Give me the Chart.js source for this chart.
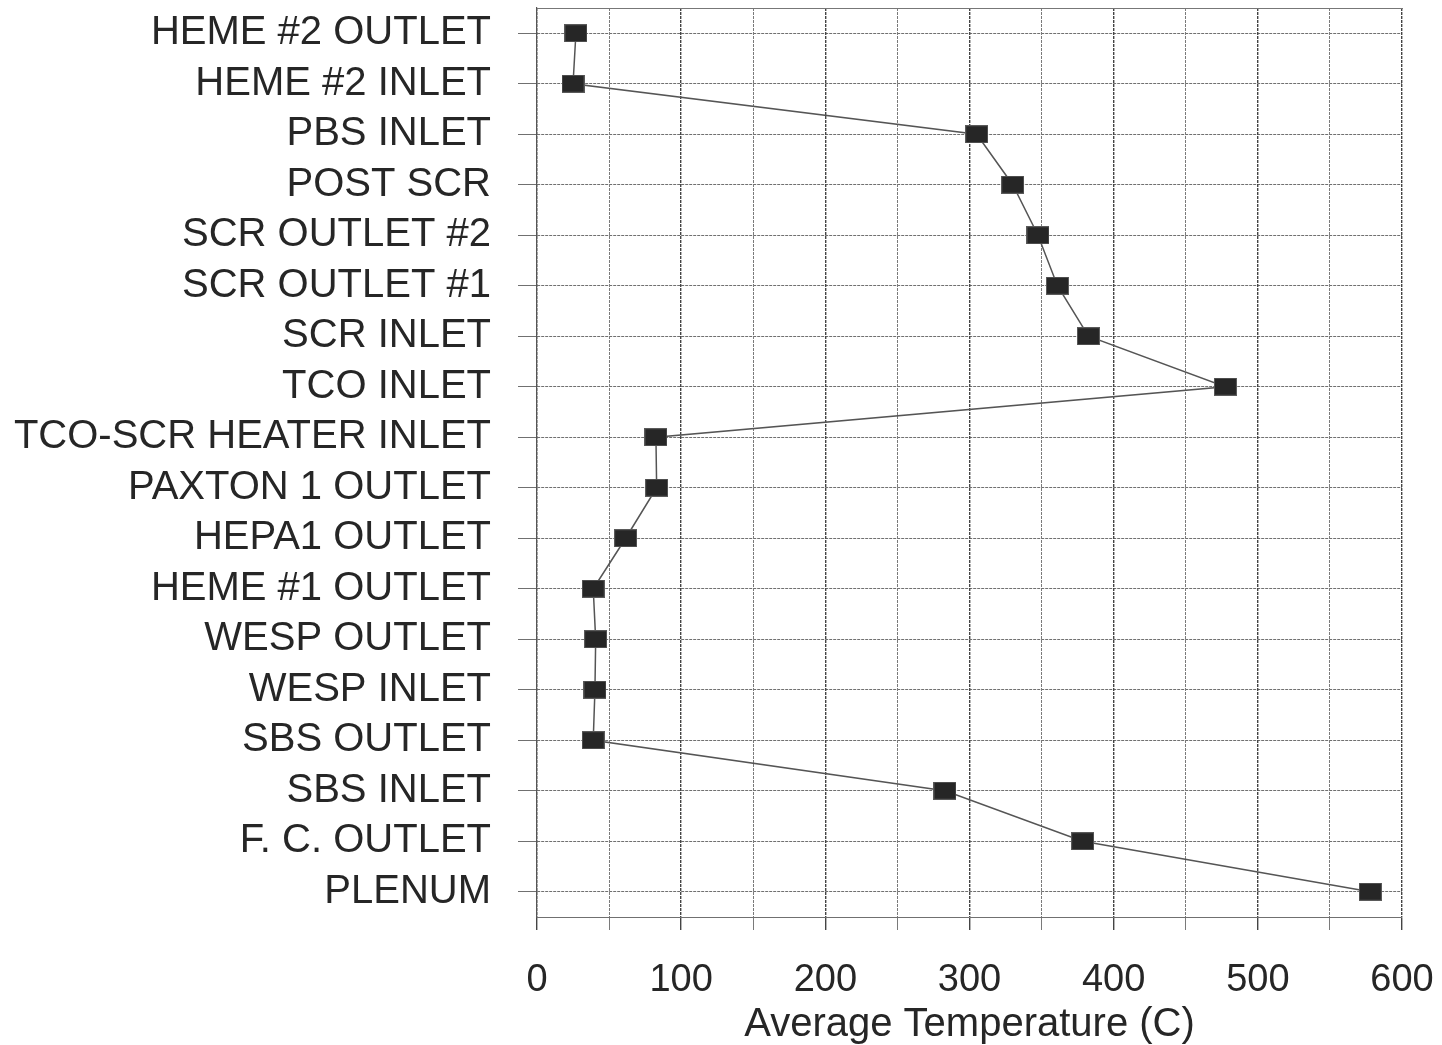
<!DOCTYPE html>
<html>
<head>
<meta charset="utf-8">
<script src="https://cdn.jsdelivr.net/npm/chart.js@4/dist/chart.umd.min.js"></script>
<style>
  html, body { margin: 0; padding: 0; background: #fff; }
  #wrap { width: 1442px; height: 1045px; position: relative; }
</style>
</head>
<body>
<div id="wrap"><canvas id="c" width="1442" height="1045"></canvas></div>
<script>
// ---- data ----
const locations = [
  "HEME #2 OUTLET", "HEME #2 INLET", "PBS INLET", "POST SCR",
  "SCR OUTLET #2", "SCR OUTLET #1", "SCR INLET", "TCO INLET",
  "TCO-SCR HEATER INLET", "PAXTON 1 OUTLET", "HEPA1 OUTLET", "HEME #1 OUTLET",
  "WESP OUTLET", "WESP INLET", "SBS OUTLET", "SBS INLET",
  "F. C. OUTLET", "PLENUM"
];
const avgTemperature = [
  27, 25, 305, 330,
  347.5, 361, 382.5, 477.5,
  82.5, 83, 61.5, 39,
  40.7, 40.2, 39, 283,
  378.5, 578
];
const xTickLabels = ["0", "100", "200", "300", "400", "500", "600"];
const xAxisTitle = "Average Temperature (C)";

// ---- marker ----
const marker = document.createElement('canvas');
marker.width = 23; marker.height = 18;
(function(){
  const m = marker.getContext('2d');
  m.fillStyle = '#5a5a5a';
  m.fillRect(0, 0, 23, 18);
  m.fillStyle = '#262626';
  m.fillRect(1, 1, 21, 16);
})();

const FONT = "'Liberation Sans', Arial, sans-serif";
const TXT = '#262626';

function zeroPad(s) { s.paddingTop = 0; s.paddingBottom = 0; s.paddingLeft = 0; s.paddingRight = 0; }

new Chart(document.getElementById('c'), {
  type: 'line',
  data: {
    labels: locations,
    datasets: [{
      data: avgTemperature,
      borderColor: '#555',
      borderWidth: 1.5,
      pointStyle: marker,
      pointRadius: 11,
      pointHoverRadius: 11,
      tension: 0,
      fill: false,
      clip: false
    }]
  },
  options: {
    indexAxis: 'y',
    responsive: false,
    animation: false,
    devicePixelRatio: 1,
    layout: { autoPadding: false, padding: { top: 0, left: 0, right: 40, bottom: 0 } },
    plugins: { legend: { display: false }, tooltip: { enabled: false } },
    scales: {
      y: {
        type: 'category',
        position: 'left',
        offset: true,
        grid: {
          offset: false,
          color: '#707070',
          lineWidth: 1,
          tickLength: 19,
          tickColor: '#707070'
        },
        border: { display: true, color: '#555', width: 1.2, dash: [3, 1] },
        ticks: {
          padding: 27,
          color: TXT,
          font: { family: FONT, size: 40 },
          autoSkip: false
        },
        afterFit: s => { s.width = 537; zeroPad(s); }
      },
      x: {
        type: 'linear',
        position: 'bottom',
        min: 0, max: 600,
        ticks: {
          stepSize: 50,
          autoSkip: false,
          maxRotation: 0,
          padding: 28,
          color: TXT,
          font: { family: FONT, size: 38 },
          callback: v => (v % 100 === 0 ? xTickLabels[v / 100] : '')
        },
        grid: {
          color: ctx => (ctx.tick && ctx.tick.value % 100 === 0) ? '#444' : '#7a7a7a',
          lineWidth: ctx => (ctx.tick && ctx.tick.value % 100 === 0) ? 1.4 : 1,
          tickLength: 13,
          tickColor: ctx => (ctx.tick && ctx.tick.value % 100 === 0) ? '#444' : '#7a7a7a'
        },
        border: { display: true, color: '#707070', width: 1, dash: [3, 1] },
        title: {
          display: true,
          text: xAxisTitle,
          color: TXT,
          font: { family: FONT, size: 40 },
          padding: { top: 0, bottom: -4 }
        },
        afterFit: s => { s.height = 128; zeroPad(s); }
      },
      xTop: {
        type: 'linear',
        position: 'top',
        min: 0, max: 600,
        ticks: { display: false },
        grid: { display: false, drawTicks: false },
        border: { display: true, color: '#777', width: 1 },
        afterFit: s => { s.height = 8; zeroPad(s); }
      }
    }
  }
});
</script>
</body>
</html>
